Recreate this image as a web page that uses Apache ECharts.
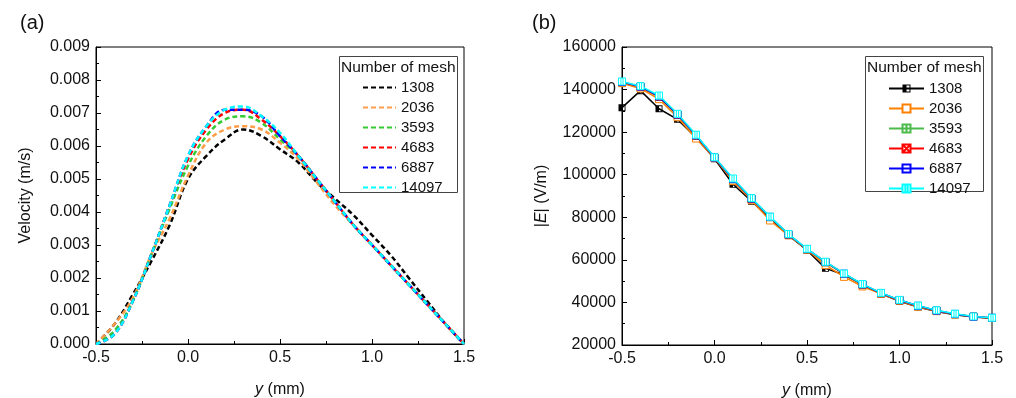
<!DOCTYPE html>
<html><head><meta charset="utf-8">
<script src="https://cdn.jsdelivr.net/npm/echarts@6/dist/echarts.min.js"></script>
<style>html,body{margin:0;padding:0;background:#fff}#c{width:1016px;height:398px}</style>
</head><body><div id="c"></div>
<script>
// ---- data ----
const meshNames = ['1308', '2036', '3593', '4683', '6887', '14097'];
const yPos = [-0.5, -0.4, -0.3, -0.2, -0.1, 0.0, 0.1, 0.2, 0.3, 0.4, 0.5, 0.6, 0.7, 0.8, 0.9, 1.0, 1.1, 1.2, 1.3, 1.4, 1.5];
const xTicks = [-0.5, 0.0, 0.5, 1.0, 1.5];
const velTicks = [0.000, 0.001, 0.002, 0.003, 0.004, 0.005, 0.006, 0.007, 0.008, 0.009];
const eTicks = [20000, 40000, 60000, 80000, 100000, 120000, 140000, 160000];

const vel1308  = [0, 0.0006, 0.0015, 0.0025, 0.0036, 0.0050, 0.0057, 0.0062, 0.0065, 0.0063, 0.0059, 0.0055, 0.0049, 0.0044, 0.0039, 0.0033, 0.0027, 0.0020, 0.0013, 0.0006, 0];
const vel2036  = [0, 0.0006, 0.0014, 0.0027, 0.0038, 0.0051, 0.0061, 0.0065, 0.0066, 0.0065, 0.0061, 0.0056, 0.0049, 0.0042, 0.0036, 0.0030, 0.0024, 0.0018, 0.0012, 0.0006, 0];
const vel3593  = [0, 0.0004, 0.0013, 0.0027, 0.0041, 0.0054, 0.0063, 0.0068, 0.0069, 0.0067, 0.0062, 0.0057, 0.0050, 0.0043, 0.0036, 0.0030, 0.0024, 0.0018, 0.0012, 0.0006, 0];
const vel4683  = [0, 0.0003, 0.0013, 0.0027, 0.0042, 0.0056, 0.0065, 0.0070, 0.0071, 0.0068, 0.0063, 0.0057, 0.0050, 0.0043, 0.0036, 0.0030, 0.0024, 0.0018, 0.0012, 0.0006, 0];
const vel6887  = [0, 0.0003, 0.0013, 0.0027, 0.0042, 0.0057, 0.0066, 0.0071, 0.0071, 0.0069, 0.0063, 0.0057, 0.0050, 0.0043, 0.0036, 0.0030, 0.0024, 0.0018, 0.0012, 0.0006, 0];
const vel14097 = [0, 0.0003, 0.0013, 0.0027, 0.0042, 0.0057, 0.0066, 0.0071, 0.0072, 0.0069, 0.0064, 0.0057, 0.0050, 0.0043, 0.0036, 0.0030, 0.0024, 0.0018, 0.0012, 0.0006, 0];

const e1308  = [131500, 139500, 131000, 126000, 117500, 107500, 95500, 87500, 79500, 71500, 64500, 56000, 53000, 48500, 44000, 40500, 37800, 35700, 34200, 33200, 32600];
const e2036  = [143000, 140500, 135500, 127000, 117000, 107800, 97000, 88000, 78500, 71500, 64800, 57500, 52000, 47500, 44000, 40700, 38000, 35900, 34400, 33300, 32700];
const e3593  = [143500, 141300, 136500, 128000, 118200, 108000, 97800, 88600, 80000, 71800, 65000, 58800, 53300, 48300, 44300, 41000, 38300, 36100, 34500, 33300, 32700];
const e4683  = [143500, 141300, 136700, 128200, 118400, 108000, 97900, 88700, 80100, 71900, 65000, 58900, 53400, 48400, 44300, 41000, 38300, 36100, 34500, 33300, 32700];
const e6887  = [143600, 141400, 136800, 128300, 118500, 108100, 98000, 88800, 80200, 72000, 65100, 59000, 53500, 48500, 44400, 41100, 38400, 36200, 34600, 33300, 32800];
const e14097 = [143800, 141600, 137200, 128600, 118800, 108200, 98200, 89000, 80300, 72100, 65200, 59100, 53600, 48600, 44500, 41200, 38500, 36300, 34700, 33400, 32800];

const velSeries = [vel1308, vel2036, vel3593, vel4683, vel6887, vel14097];
const eSeries = [e1308, e2036, e3593, e4683, e6887, e14097];

// ---- styles ----
const colorsA = ['#000000', '#ff9d4a', '#33cc33', '#ff0000', '#0000ff', '#00ffff'];
const colorsB = ['#000000', '#ff8000', '#4cbb4c', '#ff0000', '#0000ff', '#00ffff'];
const symbolsB = [
  'path://M0,0H10V10H0Z M5,1.3V8.7H8.7V1.3Z',
  'rect',
  'path://M0,0H10V10H0Z M5,0V10 M0,5H10',
  'path://M0,0H10V10H0Z M0,0L10,10 M10,0L0,10',
  'path://M0,0H10V10H0Z M0,5H10',
  'path://M0,0H10V10H0Z M3.5,0V10 M6.5,0V10'
];
const FONT = 'Liberation Sans, Arial, sans-serif';

const chart = echarts.init(document.getElementById('c'), null, {renderer: 'canvas'});

function pairs(xs, ys) { return xs.map((x, i) => [x, ys[i]]); }

const series = [];
meshNames.forEach((n, i) => {
  series.push({
    name: 'a-' + n, type: 'line', xAxisIndex: 0, yAxisIndex: 0,
    data: pairs(yPos, velSeries[i]), smooth: 0.4, symbol: 'none',
    lineStyle: {color: colorsA[i], width: 2.5, type: [5, 3]},
    itemStyle: {color: colorsA[i]}, z: 2 + i
  });
});
meshNames.forEach((n, i) => {
  const isBlack = i === 0;
  series.push({
    name: 'b-' + n, type: 'line', xAxisIndex: 1, yAxisIndex: 1,
    data: pairs(yPos, eSeries[i]), symbol: symbolsB[i], symbolSize: 7, showSymbol: true,
    lineStyle: {color: colorsB[i], width: 1.5},
    itemStyle: isBlack ? {color: '#000', borderWidth: 0} : {color: '#fff', borderColor: colorsB[i], borderWidth: 1},
    z: 2 + i
  });
});

const axisCommonX = {
  type: 'value', min: xTicks[0], max: xTicks[xTicks.length - 1], interval: 0.5,
  name: '{i|y} (mm)', nameLocation: 'middle', nameGap: 38,
  nameTextStyle: {fontFamily: FONT, fontSize: 16, color: '#111', rich: {i: {fontStyle: 'italic', fontFamily: FONT, fontSize: 16, color: '#111'}}},
  axisLine: {show: true, onZero: false, lineStyle: {color: '#000', width: 1}},
  axisTick: {show: true, inside: true, length: 5, lineStyle: {color: '#000'}},
  minorTick: {show: true, splitNumber: 2, length: 3, lineStyle: {color: '#000'}},
  splitLine: {show: false},
  axisLabel: {fontFamily: FONT, fontSize: 16, color: '#111', margin: 6, formatter: v => v.toFixed(1)}
};

const option = {
  animation: false,
  backgroundColor: '#fff',
  title: [
    {text: '(a)', left: 15, top: 8, textStyle: {fontFamily: FONT, fontSize: 20, fontWeight: 'normal', color: '#111'}},
    {text: '(b)', left: 527, top: 8, textStyle: {fontFamily: FONT, fontSize: 20, fontWeight: 'normal', color: '#111'}}
  ],
  grid: [
    {left: 96, top: 47, width: 368, height: 297, show: true, borderColor: '#000', borderWidth: 1, backgroundColor: 'transparent', outerBoundsMode: 'none', containLabel: false},
    {left: 622, top: 47, width: 370, height: 298, show: true, borderColor: '#000', borderWidth: 1, backgroundColor: 'transparent', outerBoundsMode: 'none', containLabel: false}
  ],
  xAxis: [
    Object.assign({gridIndex: 0}, axisCommonX),
    Object.assign({gridIndex: 1}, axisCommonX)
  ],
  yAxis: [
    {
      gridIndex: 0, type: 'value', min: velTicks[0], max: velTicks[velTicks.length - 1], interval: 0.001,
      name: 'Velocity (m/s)', nameLocation: 'middle', nameGap: 62,
      nameTextStyle: {fontFamily: FONT, fontSize: 16, color: '#111'},
      axisLine: {show: true, onZero: false, lineStyle: {color: '#000', width: 1}},
      axisTick: {show: true, inside: true, length: 5, lineStyle: {color: '#000'}},
      minorTick: {show: true, splitNumber: 2, length: 3, lineStyle: {color: '#000'}},
      splitLine: {show: false},
      axisLabel: {fontFamily: FONT, fontSize: 16, color: '#111', margin: 6, formatter: v => v.toFixed(3)}
    },
    {
      gridIndex: 1, type: 'value', min: eTicks[0], max: eTicks[eTicks.length - 1], interval: 20000,
      name: '|{i|E}| (V/m)', nameLocation: 'middle', nameGap: 72,
      nameTextStyle: {fontFamily: FONT, fontSize: 16, color: '#111', rich: {i: {fontStyle: 'italic', fontFamily: FONT, fontSize: 16, color: '#111'}}},
      axisLine: {show: true, onZero: false, lineStyle: {color: '#000', width: 1}},
      axisTick: {show: true, inside: true, length: 5, lineStyle: {color: '#000'}},
      minorTick: {show: true, splitNumber: 2, length: 3, lineStyle: {color: '#000'}},
      splitLine: {show: false},
      axisLabel: {fontFamily: FONT, fontSize: 16, color: '#111', margin: 6, formatter: v => String(v)}
    }
  ],
  legend: [
    {
      data: meshNames.map(n => 'a-' + n), orient: 'vertical', left: 362, top: 80, z: 30,
      itemWidth: 33, itemHeight: 10, itemGap: 5, padding: 0,
      formatter: n => n.slice(2), selectedMode: false,
      itemStyle: {opacity: 0},
      textStyle: {fontFamily: FONT, fontSize: 15, color: '#111', lineHeight: 14}
    },
    {
      data: meshNames.map(n => 'b-' + n), orient: 'vertical', left: 888, top: 81, z: 30,
      itemWidth: 35, itemHeight: 10, itemGap: 5, padding: 0,
      formatter: n => n.slice(2), selectedMode: false,
      textStyle: {fontFamily: FONT, fontSize: 15, color: '#111', lineHeight: 14}
    }
  ],
  graphic: [
    {type: 'rect', left: 339, top: 56, shape: {width: 118, height: 136}, style: {fill: '#fff', stroke: '#444', lineWidth: 1}, z: 10, silent: true},
    {type: 'text', left: 341, top: 60, style: {text: 'Number of mesh', font: '15.5px ' + FONT, fill: '#111'}, z: 11, silent: true},
    {type: 'rect', left: 865, top: 56, shape: {width: 118, height: 135}, style: {fill: '#fff', stroke: '#444', lineWidth: 1}, z: 10, silent: true},
    {type: 'text', left: 867, top: 60, style: {text: 'Number of mesh', font: '15.5px ' + FONT, fill: '#111'}, z: 11, silent: true}
  ],
  series: series
};
chart.setOption(option);
</script>
</body></html>
